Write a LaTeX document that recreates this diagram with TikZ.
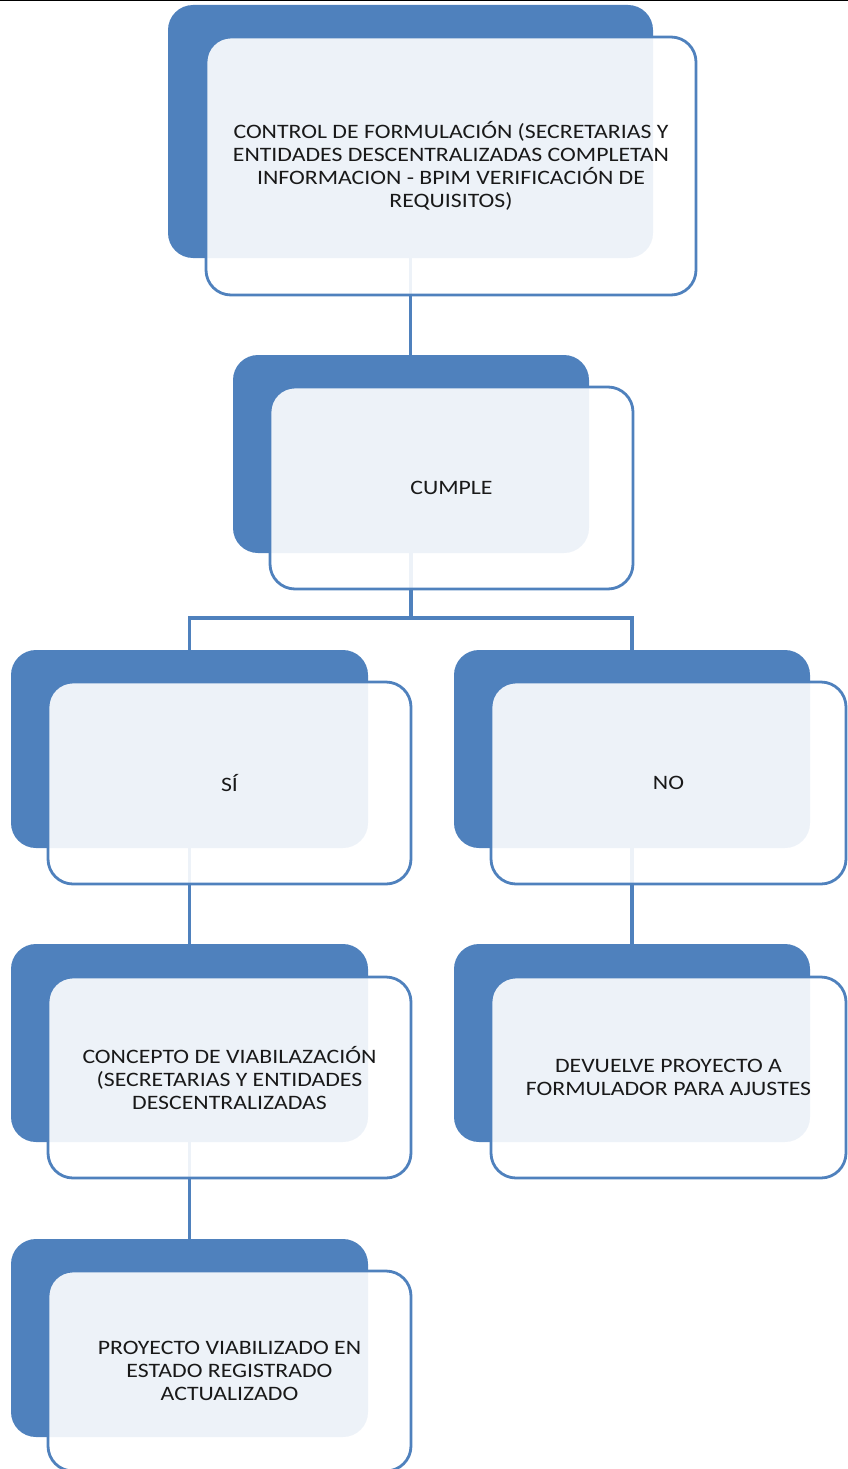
\documentclass[tikz,border=0pt]{standalone}
\usepackage{fontspec}
\setmainfont{Carlito}[FakeStretch=1.16]
\usetikzlibrary{positioning,backgrounds}
\definecolor{bluscuro}{HTML}{4F81BD}

\begin{document}
\begin{tikzpicture}[x=1pt,y=-1pt,
    fondo/.style={fill=bluscuro, rounded corners=25pt, inner sep=0pt},
    fronte/.style={draw=bluscuro, line width=2.8pt, fill=white, fill opacity=0.9, text opacity=1,
        rounded corners=25pt, inner sep=0pt, align=center, text=black!90,
        font=\fontsize{20.5}{23}\selectfont},
    linea/.style={draw=bluscuro, line width=3.5pt}]
        % Cornice
        \useasboundingbox (0,0) rectangle (848,1469);
        \clip (0,0) rectangle (848,1469);
        \draw[black, line width=3pt] (0,0) -- (848,0); % Bordo superiore

        % Controllo di formulazione
        \node[fondo, minimum width=485pt, minimum height=253pt] (b1) at (410.5,131.5) {};
        \node[fronte, minimum width=490pt, minimum height=258pt] (t1) at (451,166)
            {CONTROL DE FORMULACIÓN (SECRETARIAS Y\\ENTIDADES DESCENTRALIZADAS COMPLETAN\\INFORMACION - BPIM VERIFICACIÓN DE\\REQUISITOS)};

        % Cumple
        \node[fondo, minimum width=356pt, minimum height=198pt] (b2) at (411,454) {};
        \node[fronte, minimum width=363pt, minimum height=202pt] (t2) at (451.5,488) {CUMPLE};

        % Si / No
        \node[fondo, minimum width=357pt, minimum height=198pt] (bsi) at (189.5,749) {};
        \node[fronte, minimum width=363pt, minimum height=202pt] (tsi) at (229.5,783) {SÍ};
        \node[fondo, minimum width=356pt, minimum height=198pt] (bno) at (632,749) {};
        \node[fronte, minimum width=355pt, minimum height=202pt] (tno) at (668.5,783) {NO};

        % Concetto e restituzione
        \node[fondo, minimum width=357pt, minimum height=198pt] (bvia) at (189.5,1043) {};
        \node[fronte, minimum width=363pt, minimum height=201pt] (tvia) at (229.5,1077.5)
            {CONCEPTO DE VIABILAZACIÓN\\(SECRETARIAS Y ENTIDADES\\DESCENTRALIZADAS};
        \node[fondo, minimum width=356pt, minimum height=198pt] (bdev) at (632,1043) {};
        \node[fronte, minimum width=355pt, minimum height=201pt] (tdev) at (668.5,1077.5)
            {DEVUELVE PROYECTO A\\FORMULADOR PARA AJUSTES};

        % Progetto registrato
        \node[fondo, minimum width=357pt, minimum height=198pt] (breg) at (189.5,1338) {};
        \node[fronte, minimum width=363pt, minimum height=200pt] (treg) at (229.5,1371)
            {PROYECTO VIABILIZADO EN\\ESTADO REGISTRADO\\ACTUALIZADO};

        % Collegamenti (sotto i riquadri)
        \coordinate[below=65pt of b2.south] (ramo);
        \begin{pgfonlayer}{background}
        \draw[linea] (b1.south) -- (b1.south |- b2.north);
        \draw[linea] (b2.south) -- (ramo) -| (bsi.north);
        \draw[linea] (ramo) -| (bno.north);
        \draw[linea] (bsi.south) -- (bvia.north);
        \draw[linea] (bno.south) -- (bdev.north);
        \draw[linea] (bvia.south) -- (breg.north);
        \end{pgfonlayer}
\end{tikzpicture}
\end{document}
